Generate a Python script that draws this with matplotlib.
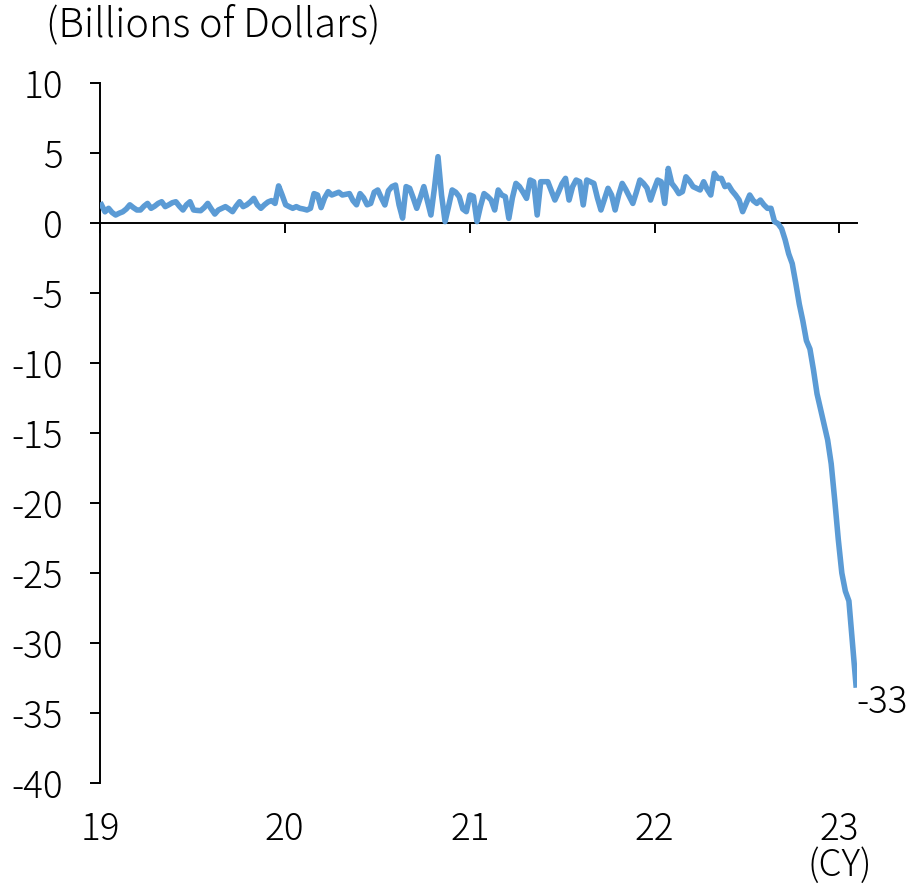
import numpy as np
import pandas as pd
import matplotlib
matplotlib.use('Agg')
import matplotlib.pyplot as plt

plt.rcParams['font.family'] = ['Noto Sans CJK JP', 'DejaVu Sans']
plt.rcParams['font.weight'] = 'light'
plt.rcParams['axes.unicode_minus'] = False

# weekly net flow, billions of dollars (blocks of 52 weeks from Jan 2019)
flow_19 = [1.3, 0.8, 1.05, 0.75, 0.57, 0.7, 0.8, 1.0, 1.3, 1.1,
           0.93, 0.93, 1.2, 1.4, 1.05, 1.2, 1.4, 1.52, 1.17, 1.3,
           1.45, 1.52, 1.2, 0.93, 1.3, 1.52, 0.93, 0.9, 0.88, 1.1,
           1.4, 1.0, 0.64, 0.93, 1.05, 1.17, 1.0, 0.81, 1.2, 1.52,
           1.17, 1.3, 1.5, 1.76, 1.3, 1.05, 1.3, 1.5, 1.6, 1.4,
           2.65, 2.0]
flow_20 = [1.3, 1.17, 1.05, 1.17, 1.05, 1.0, 0.93, 1.05, 2.1, 2.0,
           1.1, 1.8, 2.24, 2.0, 2.1, 2.2, 2.0, 2.05, 2.1, 1.6,
           1.3, 2.1, 1.8, 1.3, 1.4, 2.2, 2.36, 1.8, 1.29, 2.3,
           2.6, 2.71, 1.3, 0.35, 2.6, 2.48, 1.8, 1.05, 1.8, 2.6,
           1.6, 0.57, 2.5, 4.74, 2.0, 0.1, 1.2, 2.36, 2.2, 1.88,
           1.0, 0.81]
flow_21 = [2.0, 1.9, 0.1, 1.2, 2.1, 1.9, 1.64, 0.93, 2.36, 2.0,
           1.88, 0.33, 1.8, 2.83, 2.6, 2.2, 1.76, 3.07, 2.95, 0.57,
           2.95, 2.95, 2.95, 2.3, 1.64, 2.2, 2.8, 3.19, 1.64, 2.6,
           3.07, 2.95, 1.29, 3.07, 2.95, 2.83, 1.8, 0.93, 1.7, 2.48,
           2.0, 0.93, 2.0, 2.83, 2.4, 1.9, 1.4, 2.2, 3.07, 2.83,
           2.5, 1.64]
flow_22 = [2.4, 3.07, 2.95, 1.4, 3.9, 2.83, 2.5, 2.1, 2.24, 3.3,
           3.0, 2.6, 2.48, 2.36, 2.95, 2.4, 2.0, 3.55, 3.19, 3.19,
           2.6, 2.71, 2.3, 2.0, 1.64, 0.81, 1.4, 2.0, 1.6, 1.4,
           1.64, 1.3, 1.05, 1.05, 0.1, -0.05, -0.4, -1.2, -2.2, -2.9,
           -4.3, -5.8, -7.0, -8.4, -9.0, -10.5, -12.2, -13.3, -14.4, -15.5,
           -17.2, -19.8]
flow_23 = [-22.6, -25.0, -26.3, -27.0, -30.0, -33.0]

year_labels = ['19', '20', '21', '22', '23']

flow = np.array(flow_19 + flow_20 + flow_21 + flow_22 + flow_23)
dates = pd.date_range('2019-01-04', periods=len(flow), freq='W-FRI')
year_ticks = pd.to_datetime(['20' + y + '-01-01' for y in year_labels])

fs = 26.5

fig = plt.figure(figsize=(9.12, 8.86), dpi=100)
ax = fig.add_axes([0.1096, 0.1163, 0.8301, 0.79])

ax.plot(dates, flow, color='#5B9BD5', lw=4.0, zorder=3, solid_joinstyle='round')

ax.set_ylim(-40, 10)
ax.set_xlim(pd.Timestamp('2019-01-01'), dates[-1] + pd.Timedelta(days=2))
ax.set_yticks(np.arange(-40, 11, 5))
ax.set_yticklabels([str(v) for v in range(-40, 11, 5)])

for s in ['top', 'right']:
    ax.spines[s].set_visible(False)
ax.spines['bottom'].set_position(('data', 0))
ax.spines['bottom'].set_linewidth(1.4)
ax.spines['left'].set_linewidth(1.4)

ax.set_xticks(year_ticks)
ax.set_xticklabels([])
ax.tick_params(axis='x', direction='out', length=7.5, width=1.4)
ax.tick_params(axis='y', direction='out', length=7.5, width=1.4, labelsize=fs, pad=19)

# year labels sit under the plot, not on the zero line
for d, lbl in zip(year_ticks, year_labels):
    ax.text(d, -0.067, lbl, transform=ax.get_xaxis_transform(),
            ha='center', va='center', fontsize=fs)
ax.text(year_ticks[-1], -0.118, '(CY)', transform=ax.get_xaxis_transform(),
        ha='center', va='center', fontsize=fs)

ax.annotate(f'{flow[-1]:.0f}', xy=(dates[-1], flow[-1]), xytext=(0, -13),
            textcoords='offset points', ha='left', va='center', fontsize=fs)

fig.text(0.05, 0.971, '(Billions of Dollars)', ha='left', va='center', fontsize=28.5)

fig.savefig('out.png', dpi=100)
